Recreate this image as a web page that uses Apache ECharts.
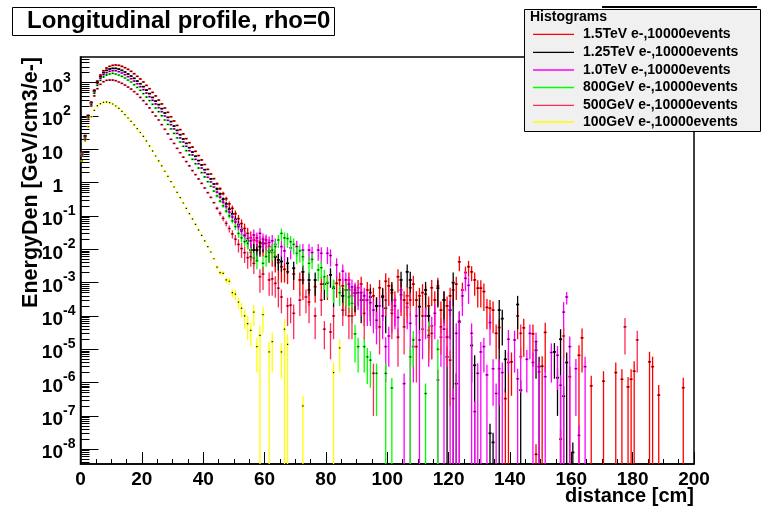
<!DOCTYPE html>
<html>
<head>
<meta charset="utf-8">
<script src="https://cdn.jsdelivr.net/npm/echarts@6/dist/echarts.min.js"></script>
<style>
  html, body { margin: 0; padding: 0; background: #fff; }
  #chart { width: 763px; height: 508px; }
</style>
</head>
<body>
<div id="chart"></div>
<script>
// histogram names / colours (legend order = draw order)
const seriesNames = [
  '1.5TeV e-,10000events',
  '1.25TeV e-,10000events',
  '1.0TeV e-,10000events',
  '800GeV e-,10000events',
  '500GeV e-,10000events',
  '100GeV e-,10000events'
];
const seriesColors = ['#ff0000', '#000000', '#ff00ff', '#00ff00', '#ff2a55', '#ffff00'];

// y decades shown on the axis
const yDecades = [1e-8, 1e-7, 1e-6, 1e-5, 1e-4, 1e-3, 1e-2, 1e-1, 1, 10, 1e2, 1e3];
const yMin = 3.6e-9, yMax = 5900;

// bins 0..43 (1 cm each), errors too small to see
const core1500 = [8.3, 26, 105, 263, 600, 1120, 1700, 2290, 2750, 3090, 3310, 3390, 3310, 3090, 2820, 2510, 2190, 1860, 1550, 1290, 1050, 830, 660, 510, 400, 300, 230, 174, 129, 95, 71, 52, 39, 29, 21, 15.8, 11.7, 8.7, 6.5, 4.8, 3.5, 2.5, 1.82, 1.32];
const core1250 = [7.9, 25, 100, 250, 560, 1020, 1510, 2000, 2340, 2570, 2690, 2690, 2570, 2340, 2090, 1820, 1580, 1350, 1120, 930, 760, 600, 470, 360, 280, 220, 166, 123, 91, 68, 50, 37, 27.5, 20.4, 15.1, 11.2, 8.3, 6.2, 4.6, 3.4, 2.45, 1.78, 1.29, 0.91];
const core1000 = [7.6, 24, 95, 240, 525, 930, 1350, 1740, 2000, 2190, 2290, 2290, 2140, 1950, 1740, 1510, 1320, 1120, 930, 760, 620, 490, 380, 295, 230, 178, 135, 100, 74, 55, 41, 30, 22, 16.6, 12.3, 9.1, 6.8, 5.0, 3.7, 2.75, 2.0, 1.45, 1.05, 0.74];
const core800 = [7.1, 22, 89, 224, 480, 830, 1170, 1480, 1700, 1820, 1900, 1820, 1700, 1550, 1380, 1200, 1050, 870, 720, 590, 470, 370, 290, 224, 174, 135, 102, 76, 56, 41, 30, 22, 16.6, 12.3, 9.1, 6.8, 5.0, 3.7, 2.75, 2.0, 1.48, 1.07, 0.78, 0.56];
const core500 = [6.3, 20, 79, 200, 400, 660, 890, 1070, 1170, 1200, 1200, 1150, 1050, 955, 850, 740, 645, 540, 450, 360, 290, 225, 175, 130, 100, 76, 55, 40, 29, 20, 15, 10.7, 7.9, 5.8, 4.3, 3.2, 2.3, 1.74, 1.29, 0.95, 0.69, 0.50, 0.36, 0.25];
const core100 = [4.5, 18, 48, 95, 148, 204, 234, 257, 263, 251, 229, 200, 170, 138, 110, 87, 69, 54, 42, 32, 24.5, 17.8, 12.6, 8.9, 6.3, 4.5, 3.2, 2.2, 1.55, 1.07, 0.74, 0.51, 0.355, 0.245, 0.17, 0.117, 0.081, 0.056, 0.038, 0.026, 0.0178, 0.012, 0.0083, 0.0052];

// tails: [bin, value, error]
const tail1500 = [
  [44, 0.93, 0.08], [45, 0.66, 0.07], [46, 0.47, 0.06], [47, 0.33, 0.05], [48, 0.23, 0.04], [49, 0.17, 0.035],
  [50, 0.117, 0.03], [51, 0.083, 0.025], [52, 0.059, 0.02], [53, 0.042, 0.017], [54, 0.030, 0.014], [55, 0.022, 0.012],
  [56, 0.019, 0.01], [57, 0.018, 0.01], [58, 0.016, 0.009], [59, 0.015, 0.009], [60, 0.015, 0.009], [61, 0.012, 0.008],
  [62, 0.008, 0.005], [63, 0.006, 0.004], [64, 0.004, 0.003], [65, 0.003, 0.002], [66, 0.0025, 0.0015], [67, 0.0021, 0.0012],
  [69, 0.0018, 0.0012], [71, 0.0012, 0.0008], [72, 0.0012, 0.0009], [74, 0.0006, 0.0004], [76, 0.00075, 0.0005],
  [78, 0.0009, 0.0006], [80, 0.001, 0.0007], [83, 0.00095, 0.0006], [84, 0.0012, 0.0008], [85, 0.0008, 0.0006],
  [86, 0.0006, 0.0005], [87, 0.0012, 0.0008], [88, 0.0004, 0.0003], [89, 0.0005, 0.0004], [90, 0.0007, 0.0005],
  [91, 0.0009, 0.0006], [92, 0.0003, 0.00025], [93, 0.0006, 0.00045], [94, 0.0005, 0.0004], [95, 0.0004, 0.0003],
  [96, 0.0002, 0.00016], [97, 0.0007, 0.0005], [98, 0.0004, 0.0003], [99, 0.0011, 0.0008], [100, 0.0008, 0.0006],
  [101, 0.0005, 0.0004], [102, 0.0003, 0.00025], [103, 0.0015, 0.001], [104, 0.0006, 0.0005], [105, 0.0003, 0.00025],
  [106, 0.0004, 0.0003], [107, 0.0007, 0.0005], [108, 0.0009, 0.0007], [109, 0.0003, 0.00025], [110, 0.0004, 0.0003],
  [111, 0.0005, 0.0004], [112, 0.00045, 0.00035], [113, 0.0002, 0.00018], [114, 0.0007, 0.0005], [115, 0.0003, 0.00025],
  [116, 0.0008, 0.0006], [117, 0.00015, 0.00012], [118, 0.0003, 0.00025], [119, 0.0002, 0.00018], [120, 0.0004, 0.0003],
  [121, 0.0006, 0.0004], [122, 0.0009, 0.0006], [123, 0.0042, 0.002], [124, 0.0006, 0.0004], [125, 0.002, 0.001],
  [126, 0.003, 0.0015], [127, 0.0021, 0.001], [128, 0.0012, 0.0008], [129, 0.00068, 0.0005], [130, 0.00068, 0.0005],
  [131, 0.00054, 0.0004], [132, 0.00018, 0.00014], [133, 0.00017, 0.00013], [134, 0.00015, 0.00012], [135, 0.00003, 0.000025],
  [136, 0.000045, 0.000035], [138, 3.3e-7, 3.3e-7], [139, 4e-6, 4e-6], [140, 4.2e-6, 3.8e-6], [142, 0.0001, 0.00008],
  [144, 4.4e-5, 3.8e-5], [147, 2.9e-5, 2.6e-5], [148, 7e-9, 7e-9], [150, 3.1e-6, 3.1e-6], [151, 3.2e-5, 3e-5],
  [156, 2e-8, 2e-8], [159, 1.5e-6, 1.5e-6], [162, 6.6e-6, 6.6e-6], [163, 2.2e-5, 2e-5], [166, 8e-7, 8e-7],
  [170, 1.1e-6, 1.1e-6], [174, 2e-6, 2e-6], [176, 1.26e-6, 1.26e-6], [178, 7.4e-7, 7.4e-7], [179, 1.26e-6, 1.26e-6],
  [180, 2.2e-6, 2.2e-6], [185, 4.2e-6, 4.2e-6], [186, 3e-6, 3e-6], [188, 4.2e-7, 4.2e-7], [196, 7e-7, 7e-7]
];
const tail1250 = [
  [44, 0.65, 0.06], [45, 0.46, 0.05], [46, 0.32, 0.04], [47, 0.23, 0.035], [48, 0.16, 0.03], [49, 0.115, 0.025],
  [50, 0.079, 0.02], [51, 0.055, 0.016], [52, 0.038, 0.013], [53, 0.026, 0.01], [54, 0.018, 0.008], [55, 0.0095, 0.005],
  [56, 0.0095, 0.005], [57, 0.0095, 0.005], [58, 0.012, 0.006], [59, 0.015, 0.007], [61, 0.009, 0.005], [63, 0.006, 0.003],
  [64, 0.0048, 0.0025], [65, 0.0043, 0.0022], [67, 0.0038, 0.002], [69, 0.0027, 0.0015], [72, 0.0021, 0.0012],
  [74, 0.0012, 0.0008], [76, 0.0012, 0.0008], [79, 0.0009, 0.0006], [81, 0.0017, 0.001], [82, 0.00068, 0.0005],
  [85, 0.0004, 0.0003], [87, 0.0006, 0.0004], [89, 0.00048, 0.00035], [91, 0.0003, 0.00024], [94, 0.00037, 0.0003],
  [96, 0.0002, 0.00016], [98, 0.00037, 0.0003], [99, 0.00017, 0.00014], [101, 0.0006, 0.00045], [104, 0.0012, 0.0009],
  [106, 0.0021, 0.0014], [107, 0.0012, 0.0009], [110, 0.00019, 0.00016], [112, 0.0006, 0.00045], [113, 0.0001, 0.00009],
  [116, 0.00068, 0.0005], [118, 0.0003, 0.00024], [119, 5.9e-6, 5.9e-6], [120, 0.00015, 0.00013], [121, 0.001, 0.001],
  [122, 9.3e-7, 9.3e-7], [123, 6.6e-5, 6.6e-5], [127, 1.3e-5, 1.2e-5], [128, 3.3e-6, 3.3e-6], [133, 3e-8, 2.8e-8],
  [134, 1.6e-8, 1.5e-8], [136, 0.00015, 0.00015], [137, 8.3e-5, 7e-5], [138, 5e-6, 4.5e-6], [142, 0.00022, 0.00018],
  [143, 5.9e-7, 5.9e-7], [148, 9.3e-6, 8e-6], [149, 3e-6, 3e-6], [154, 8.3e-6, 7e-6], [155, 1.4e-6, 1.3e-6],
  [156, 2e-5, 2e-5], [157, 3.9e-7, 3.9e-7], [158, 4e-6, 4e-6], [160, 8e-9, 8e-9]
];
const tail1000 = [
  [44, 0.52, 0.05], [45, 0.37, 0.04], [46, 0.26, 0.035], [47, 0.19, 0.03], [48, 0.13, 0.025], [49, 0.093, 0.02],
  [50, 0.066, 0.016], [51, 0.048, 0.013], [52, 0.035, 0.011], [53, 0.026, 0.009], [54, 0.021, 0.008], [55, 0.018, 0.008],
  [56, 0.027, 0.012], [57, 0.022, 0.01], [58, 0.03, 0.013], [59, 0.02, 0.01], [60, 0.019, 0.009], [61, 0.016, 0.008],
  [62, 0.018, 0.009], [63, 0.014, 0.007], [65, 0.012, 0.006], [66, 0.009, 0.005], [68, 0.011, 0.006], [70, 0.012, 0.006],
  [72, 0.0095, 0.005], [74, 0.0095, 0.005], [75, 0.008, 0.004], [77, 0.0095, 0.005], [78, 0.0076, 0.004], [80, 0.0076, 0.004],
  [81, 0.0065, 0.0035], [83, 0.0034, 0.002], [85, 0.0022, 0.0013], [86, 0.0012, 0.0008], [87, 0.0009, 0.0006],
  [88, 0.00074, 0.0005], [89, 0.0006, 0.0004], [90, 0.0005, 0.00035], [91, 0.0005, 0.0004], [92, 0.0004, 0.0003],
  [93, 0.0003, 0.00025], [94, 0.00025, 0.0002], [95, 0.00015, 0.00012], [96, 7.4e-5, 6e-5], [97, 0.0002, 0.00016],
  [98, 0.0001, 0.00008], [99, 1.2e-5, 1.1e-5], [100, 2.5e-5, 2.2e-5], [101, 0.00015, 0.00012], [102, 0.0002, 0.00016],
  [103, 9e-5, 7e-5], [104, 0.00043, 0.0003], [105, 9.3e-7, 9.3e-7], [106, 0.00018, 0.00014], [107, 6e-5, 6e-5],
  [108, 1.2e-5, 1.1e-5], [109, 0.0001, 0.00008], [110, 1.9e-5, 1.9e-5], [111, 4e-5, 3.5e-5], [112, 0.0001, 0.00008],
  [113, 2.3e-5, 2e-5], [114, 5e-5, 4.5e-5], [115, 0.00012, 0.0001], [116, 1.2e-6, 1.2e-6], [117, 2.3e-5, 2e-5],
  [118, 4e-5, 4e-5], [119, 2.3e-5, 2e-5], [120, 0.00015, 0.00015], [121, 3.3e-7, 3.3e-7], [122, 3e-5, 3e-5],
  [123, 7e-5, 7e-5], [124, 0.0004, 0.0003], [125, 0.00135, 0.0008], [126, 0.00083, 0.0006], [127, 3e-5, 3e-5],
  [128, 1.35e-7, 1.35e-7], [129, 1.9e-6, 1.9e-6], [130, 8.3e-6, 8.3e-6], [131, 1.2e-5, 1e-5], [132, 1.7e-6, 1.7e-6],
  [133, 6.3e-5, 5e-5], [134, 2.6e-6, 2.4e-6], [135, 4.7e-7, 4.7e-7], [136, 2.6e-6, 2.4e-6], [137, 2e-6, 2e-6],
  [139, 2e-5, 1.8e-5], [141, 1.9e-5, 1.7e-5], [142, 1.3e-6, 1.3e-6], [143, 6e-6, 5.5e-6], [145, 5e-6, 4.5e-6],
  [146, 3e-5, 2.5e-5], [147, 4e-6, 4e-6], [148, 1.7e-5, 1.5e-5], [149, 2.1e-6, 2.1e-6], [151, 1.5e-6, 1.5e-6],
  [153, 8e-6, 7e-6], [155, 6.6e-6, 6e-6], [156, 8.3e-7, 8.3e-7], [157, 0.00013, 0.00013], [158, 0.00037, 0.00015],
  [159, 1.2e-5, 1.2e-5], [161, 2.6e-6, 2.5e-6], [162, 2.6e-8, 2.6e-8], [164, 3e-6, 3e-6]
];
const tail800 = [
  [44, 0.40, 0.04], [45, 0.28, 0.03], [46, 0.20, 0.025], [47, 0.14, 0.02], [48, 0.10, 0.016], [49, 0.071, 0.012],
  [50, 0.048, 0.01], [51, 0.030, 0.008], [52, 0.022, 0.006], [53, 0.017, 0.005], [54, 0.015, 0.005], [55, 0.008, 0.003],
  [56, 0.0054, 0.0025], [57, 0.0045, 0.002], [59, 0.0038, 0.002], [60, 0.006, 0.003], [61, 0.008, 0.004], [62, 0.0095, 0.005],
  [63, 0.012, 0.006], [64, 0.019, 0.008], [65, 0.03, 0.012], [66, 0.022, 0.01], [67, 0.021, 0.01], [68, 0.017, 0.008],
  [69, 0.014, 0.007], [70, 0.0076, 0.004], [71, 0.009, 0.005], [72, 0.006, 0.003], [74, 0.0038, 0.002], [75, 0.005, 0.0025],
  [77, 0.0024, 0.0013], [78, 0.0028, 0.0015], [79, 0.0015, 0.0009], [80, 0.00095, 0.0006], [82, 0.00074, 0.0005],
  [84, 0.0005, 0.0003], [86, 0.0006, 0.0004], [87, 0.00037, 0.00025], [88, 0.00024, 0.00018], [89, 2.9e-5, 2.5e-5],
  [90, 1.2e-5, 1e-5], [92, 1.2e-5, 1e-5], [93, 5.9e-6, 5e-6], [94, 4.7e-6, 4e-6], [96, 1.9e-6, 1.8e-6], [99, 1.9e-6, 1.9e-6],
  [101, 6.9e-7, 6.9e-7], [107, 5.9e-6, 5.9e-6], [108, 1.9e-5, 1.6e-5], [112, 4.7e-7, 4.7e-7], [113, 3.7e-5, 3e-5], [116, 1e-5, 1e-5]
];
const tail500 = [
  [44, 0.17, 0.02], [45, 0.12, 0.018], [46, 0.085, 0.015], [47, 0.060, 0.012], [48, 0.042, 0.01], [49, 0.029, 0.008],
  [50, 0.020, 0.007], [51, 0.014, 0.006], [52, 0.0105, 0.005], [53, 0.0079, 0.004], [54, 0.0056, 0.003], [55, 0.006, 0.003],
  [56, 0.0038, 0.002], [58, 0.0015, 0.001], [59, 0.0018, 0.0012], [61, 0.0012, 0.0008], [62, 0.0013, 0.0009],
  [63, 0.00095, 0.0006], [64, 0.00068, 0.0005], [65, 0.00037, 0.00025], [67, 0.0002, 0.00015], [68, 0.00021, 0.00015],
  [69, 0.00012, 0.0001], [71, 0.0003, 0.0002], [73, 0.00037, 0.00025], [74, 0.00026, 0.0002], [76, 0.0001, 0.00008],
  [78, 0.0003, 0.0002], [79, 0.00004, 0.00003], [81, 0.000033, 0.000028], [82, 0.0001, 0.00008], [85, 0.00015, 0.0001],
  [87, 0.0001, 0.00008], [88, 0.0001, 0.00008], [92, 0.00012, 0.0001], [95, 1.9e-6, 1.8e-6], [97, 4.7e-5, 4e-5],
  [99, 0.0003, 0.0002], [101, 0.00012, 0.0001], [103, 2.3e-5, 2e-5], [105, 4.7e-5, 4e-5], [106, 0.00024, 0.00018],
  [107, 0.0003, 0.0002], [109, 1.2e-5, 1.1e-5], [111, 0.0001, 0.00008], [113, 2.6e-5, 2.2e-5], [114, 3e-5, 2.5e-5],
  [117, 4.7e-5, 4e-5], [119, 2.3e-5, 2e-5], [120, 4.7e-6, 4.5e-6], [143, 3e-5, 2.5e-5], [157, 2.5e-5, 2e-5],
  [177, 4.7e-5, 4e-5], [181, 1.9e-5, 1.7e-5]
];
const tail100 = [
  [44, 0.0029, 0.0004], [45, 0.002, 0.0003], [46, 0.0019, 0.0003], [47, 0.0012, 0.00025], [48, 0.0011, 0.00025],
  [49, 0.0005, 0.00015], [50, 0.00045, 0.00015], [51, 0.00026, 0.0001], [52, 0.00017, 0.00008], [53, 0.0001, 0.00006],
  [54, 5.9e-5, 4e-5], [55, 3.7e-5, 2.5e-5], [56, 0.00013, 0.00008], [57, 1.2e-5, 1e-5], [58, 2.6e-5, 2.6e-5],
  [59, 0.00011, 0.00008], [61, 8.3e-6, 8.3e-6], [62, 1.7e-5, 1.5e-5], [65, 8.3e-6, 7e-6], [66, 4e-5, 4e-5],
  [67, 1.4e-5, 1.4e-5], [72, 2e-7, 2e-7], [82, 2e-6, 2e-6], [84, 1.1e-5, 9e-6]
];

const coreSets = [core1500, core1250, core1000, core800, core500, core100];
const tailSets = [tail1500, tail1250, tail1000, tail800, tail500, tail100];

const FONT = '"Liberation Sans", Arial, Helvetica, sans-serif';

function histData(core, tail) {
  return core.map((v, i) => [i, v, 0]).concat(tail);
}

// one ROOT-style "E" bin: horizontal bin line, vertical error bar, dot marker
function renderBin(params, api) {
  const bin = api.value(0), y = api.value(1), err = api.value(2);
  const color = api.visual('color');
  const lo = y - err > yMin ? y - err : yMin;
  const top = api.coord([bin + 0.5, y + err]);
  const bot = api.coord([bin + 0.5, lo]);
  const left = api.coord([bin, y]);
  const right = api.coord([bin + 1, y]);
  const children = [
    { type: 'line', shape: { x1: left[0], y1: left[1], x2: right[0], y2: right[1] },
      style: { stroke: color, lineWidth: 1.7 } }
  ];
  if (err > 0) {
    children.push({ type: 'line', shape: { x1: top[0], y1: top[1], x2: bot[0], y2: bot[1] },
      style: { stroke: color, lineWidth: 1.3 } });
  }
  children.push({ type: 'rect', shape: { x: top[0] - 0.6, y: left[1] - 0.6, width: 1.2, height: 1.2 },
    style: { fill: '#000' } });
  return { type: 'group', children: children };
}

const minorY = [];
for (let e = -9; e <= 3; e++) {
  for (let m = 2; m <= 9; m++) minorY.push(m * Math.pow(10, e));
}

// "10" / "1" base text, exponent goes on the companion axis
function yBase(v) {
  return Math.round(Math.log10(v)) === 0 ? '{b|1}' : '{b|10}';
}
function yExp(v) {
  const e = Math.round(Math.log10(v));
  return (e === 0 || e === 1) ? '' : '{e|' + e + '}';
}

const rowY = [34.3, 52.3, 70, 87.5, 105.3, 122];
const legendGraphics = [
  { type: 'line', z: 9, shape: { x1: 602, y1: 7, x2: 757, y2: 7 }, style: { stroke: '#000', lineWidth: 2 } },
  { type: 'rect', z: 10, shape: { x: 524.5, y: 9.5, width: 236, height: 122 },
    style: { fill: '#f0f0f0', stroke: '#000', lineWidth: 1 } },
  { type: 'text', z: 11, x: 530, y: 17, style: { text: 'Histograms', font: 'bold 14px ' + FONT, fill: '#000',
    textAlign: 'left', textVerticalAlign: 'middle' } }
];
seriesNames.forEach((name, i) => {
  legendGraphics.push({ type: 'line', z: 11, shape: { x1: 533, y1: rowY[i], x2: 574, y2: rowY[i] },
    style: { stroke: seriesColors[i], lineWidth: 1.3 } });
  legendGraphics.push({ type: 'text', z: 11, x: 583, y: rowY[i], style: { text: name, font: 'bold 14px ' + FONT,
    fill: '#000', textAlign: 'left', textVerticalAlign: 'middle' } });
});

const chart = echarts.init(document.getElementById('chart'), null, { renderer: 'canvas' });

chart.setOption({
  animation: false,
  backgroundColor: '#fff',
  title: {
    text: 'Longitudinal profile, rho=0',
    left: 12, top: 7,
    padding: [2, 4, 2, 15],
    borderColor: '#000', borderWidth: 1, backgroundColor: '#fff',
    textStyle: { fontSize: 24, fontWeight: 'bold', fontFamily: FONT, color: '#000', lineHeight: 25 }
  },
  grid: {
    left: 80.5, right: 69, top: 57, bottom: 44,
    show: true, borderColor: '#000', borderWidth: 1.5, backgroundColor: 'transparent'
  },
  xAxis: {
    type: 'value', min: 0, max: 200, interval: 20,
    axisLine: { show: true, onZero: false, lineStyle: { color: '#000', width: 1.5 } },
    axisTick: { inside: true, length: 12, lineStyle: { color: '#000', width: 1 } },
    minorTick: { show: true, splitNumber: 4, length: 5, lineStyle: { color: '#000', width: 1 } },
    splitLine: { show: false },
    axisLabel: { margin: 6, color: '#000', fontSize: 19, fontWeight: 'bold', fontFamily: FONT }
  },
  yAxis: [
    {
      type: 'log', min: yMin, max: yMax,
      axisLine: { show: true, lineStyle: { color: '#000', width: 1.5 } },
      axisTick: { inside: true, length: 18, customValues: yDecades, lineStyle: { color: '#000', width: 1 } },
      splitLine: { show: false },
      axisLabel: {
        customValues: yDecades, margin: 17.5, formatter: yBase,
        rich: {
          b: { color: '#000', fontSize: 19, fontWeight: 'bold', fontFamily: FONT, padding: [8, 0, 0, 0] }
        }
      }
    },
    {
      // minor decade ticks + exponent labels
      type: 'log', min: yMin, max: yMax, position: 'left',
      axisLine: { show: false },
      axisTick: { show: true, inside: true, length: 9, customValues: minorY, lineStyle: { color: '#000', width: 1 } },
      axisLabel: {
        customValues: yDecades, margin: 17.5, formatter: yExp, align: 'left',
        rich: {
          e: { color: '#000', fontSize: 14, fontWeight: 'bold', fontFamily: FONT, padding: [0, 0, 10, 0] }
        }
      },
      splitLine: { show: false }
    }
  ],
  graphic: legendGraphics.concat([
    { type: 'text', x: 31, y: 57, rotation: Math.PI / 2,
      style: { text: 'EnergyDen [GeV/cm3/e-]', font: 'bold 21.5px ' + FONT, fill: '#000',
        textAlign: 'right', textVerticalAlign: 'middle' } },
    { type: 'text', x: 694, y: 496,
      style: { text: 'distance [cm]', font: 'bold 20px ' + FONT, fill: '#000',
        textAlign: 'right', textVerticalAlign: 'middle' } }
  ]),
  series: seriesNames.map((name, i) => ({
    name: name,
    type: 'custom',
    clip: true,
    yAxisIndex: 0,
    itemStyle: { color: seriesColors[i] },
    encode: { x: 0, y: 1 },
    renderItem: renderBin,
    data: histData(coreSets[i], tailSets[i])
  }))
});
</script>
</body>
</html>
